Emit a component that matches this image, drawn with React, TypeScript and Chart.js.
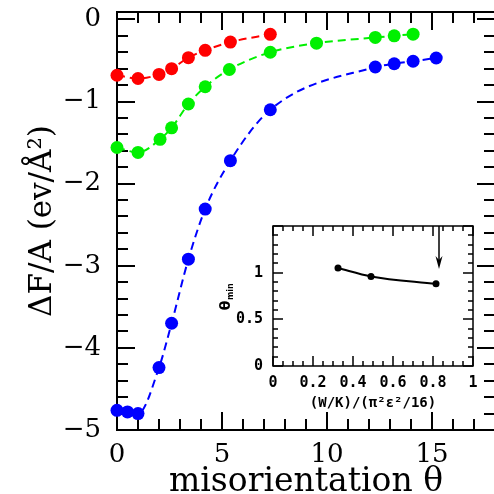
import React, { useEffect, useRef } from "react";
import { Chart, registerables } from "chart.js";

Chart.register(...registerables);

// ---------- Main chart data ----------
const X_RED = [0, 1.0, 2.0, 2.6, 3.4, 4.2, 5.4, 7.3];
const Y_RED = [-0.68, -0.72, -0.67, -0.6, -0.466, -0.377, -0.276, -0.182];

const X_GREEN = [0, 1.0, 2.05, 2.6, 3.4, 4.2, 5.35, 7.3, 9.5, 12.3, 13.2, 14.1];
const Y_GREEN = [-1.56, -1.62, -1.46, -1.32, -1.03, -0.82, -0.61, -0.4, -0.29, -0.22, -0.2, -0.18];

const X_BLUE = [0, 0.5, 1.0, 2.0, 2.6, 3.4, 4.2, 5.4, 7.3, 12.3, 13.2, 14.1, 15.2];
const Y_BLUE = [-4.76, -4.78, -4.8, -4.24, -3.7, -2.92, -2.31, -1.72, -1.1, -0.58, -0.54, -0.51, -0.47];

const MAIN_X_TICKS = [0, 5, 10, 15];
const MAIN_Y_TICKS = [0, -1, -2, -3, -4, -5];
const MAIN_X_TITLE = "misorientation \u03b8";
const MAIN_Y_TITLE = "\u0394F/A (ev/\u00c5\u00b2)";

// ---------- Inset data ----------
const INSET_X = [0.325, 0.49, 0.815];
const INSET_Y = [1.05, 0.96, 0.88];
const INSET_X_TICKS = [0, 0.2, 0.4, 0.6, 0.8, 1];
const INSET_Y_TICKS = [0, 0.5, 1];
const INSET_X_TITLE = "(W/K)/(\u03c0\u00b2\u03b5\u00b2/16)";
const INSET_ARROW_X = 0.83;
const INSET_ARROW_FROM = 1.5;
const INSET_ARROW_TO = 1.04;

function steps(min: number, max: number, step: number): number[] {
  const n = Math.round((max - min) / step);
  const out: number[] = [];
  for (let i = 0; i <= n; i++) out.push(+(min + i * step).toFixed(6));
  return out;
}

function isMultiple(v: number, m: number) {
  const r = v / m;
  return Math.abs(r - Math.round(r)) < 1e-6;
}

type FrameCfg = {
  id: string;
  lw: number;
  xMinor: number[];
  xMajorStep: number;
  yMinor: number[];
  yMajorStep: number;
  minorLen: number;
  majorLen: number;
};

function makeFramePlugin(cfg: FrameCfg) {
  return {
    id: cfg.id,
    beforeDatasetsDraw(chart: any) {
      const { ctx, chartArea, scales } = chart;
      const { left, right, top, bottom } = chartArea;
      const xs = scales.x;
      const ys = scales.y;
      ctx.save();
      ctx.strokeStyle = "#000";
      ctx.lineWidth = cfg.lw;
      ctx.lineCap = "butt";
      ctx.beginPath();
      for (const v of cfg.xMinor) {
        const px = Math.round(xs.getPixelForValue(v));
        const len = isMultiple(v, cfg.xMajorStep) ? cfg.majorLen : cfg.minorLen;
        ctx.moveTo(px, bottom);
        ctx.lineTo(px, bottom - len);
        ctx.moveTo(px, top);
        ctx.lineTo(px, top + len);
      }
      for (const v of cfg.yMinor) {
        const py = Math.round(ys.getPixelForValue(v));
        const len = isMultiple(v, cfg.yMajorStep) ? cfg.majorLen : cfg.minorLen;
        ctx.moveTo(left, py);
        ctx.lineTo(left + len, py);
        ctx.moveTo(right, py);
        ctx.lineTo(right - len, py);
      }
      ctx.stroke();
      ctx.strokeRect(left, top, right - left, bottom - top);
      ctx.restore();
    },
  };
}

const mainTitles = {
  id: "mainTitles",
  afterDraw(chart: any) {
    const { ctx, chartArea } = chart;
    ctx.save();
    ctx.fillStyle = "#000";
    ctx.textAlign = "center";
    ctx.textBaseline = "alphabetic";
    ctx.font = "33px 'DejaVu Serif'";
    ctx.fillText(MAIN_X_TITLE, (chartArea.left + chartArea.right) / 2, 491);
    ctx.font = "31px 'DejaVu Serif'";
    ctx.translate(51, 221);
    ctx.rotate(-Math.PI / 2);
    ctx.fillText(MAIN_Y_TITLE, 0, 0);
    ctx.restore();
  },
};

const insetExtras = {
  id: "insetExtras",
  afterDraw(chart: any) {
    const { ctx, chartArea, scales } = chart;
    ctx.save();
    ctx.fillStyle = "#000";
    ctx.strokeStyle = "#000";
    // x title
    ctx.font = "bold 14px 'DejaVu Sans Mono'";
    ctx.textAlign = "center";
    ctx.textBaseline = "middle";
    ctx.fillText(INSET_X_TITLE, (chartArea.left + chartArea.right) / 2, 203);
    // y title theta_min
    ctx.save();
    ctx.translate(30, 97);
    ctx.rotate(-Math.PI / 2);
    ctx.textAlign = "left";
    ctx.textBaseline = "alphabetic";
    ctx.font = "bold 14px 'DejaVu Sans'";
    const tw = ctx.measureText("\u03b8").width;
    ctx.font = "bold 8px 'DejaVu Sans'";
    const sw = ctx.measureText("min").width;
    const start = -(tw + sw) / 2;
    ctx.font = "bold 14px 'DejaVu Sans'";
    ctx.fillText("\u03b8", start, 0);
    ctx.font = "bold 8px 'DejaVu Sans'";
    ctx.fillText("min", start + tw + 0.5, 3);
    ctx.restore();
    // arrow
    const ax = scales.x.getPixelForValue(INSET_ARROW_X);
    const ay0 = scales.y.getPixelForValue(INSET_ARROW_FROM);
    const ay1 = scales.y.getPixelForValue(INSET_ARROW_TO);
    ctx.lineWidth = 1.5;
    ctx.beginPath();
    ctx.moveTo(ax, ay0);
    ctx.lineTo(ax, ay1 - 8);
    ctx.stroke();
    ctx.beginPath();
    ctx.moveTo(ax, ay1);
    ctx.lineTo(ax - 3.5, ay1 - 13);
    ctx.lineTo(ax, ay1 - 9);
    ctx.lineTo(ax + 3.5, ay1 - 13);
    ctx.closePath();
    ctx.fill();
    ctx.restore();
  },
};

function series(xs: number[], ys: number[]) {
  return xs.map((x, i) => ({ x, y: ys[i] }));
}

function dashedSet(xs: number[], ys: number[], color: string) {
  return {
    data: series(xs, ys),
    borderColor: color,
    backgroundColor: color,
    borderWidth: 2,
    borderDash: [8, 5],
    pointRadius: 6.5,
    pointHoverRadius: 6.5,
    pointBorderWidth: 0,
    pointBackgroundColor: color,
    cubicInterpolationMode: "monotone" as const,
    clip: false as const,
  };
}

const minusFmt = (v: number) => (v < 0 ? "\u2212" + Math.abs(v) : String(v));

const zeroPadX = (s: any) => {
  s.paddingLeft = 0;
  s.paddingRight = 0;
};
const zeroPadY = (s: any) => {
  s.paddingTop = 0;
  s.paddingBottom = 0;
};

export default function App() {
  const mainRef = useRef<HTMLCanvasElement>(null);
  const insetRef = useRef<HTMLCanvasElement>(null);

  useEffect(() => {
    document.body.style.margin = "0";
    const mainChart = new Chart(mainRef.current!, {
      type: "line",
      data: {
        datasets: [
          dashedSet(X_RED, Y_RED, "#ff0000"),
          dashedSet(X_GREEN, Y_GREEN, "#00f000"),
          dashedSet(X_BLUE, Y_BLUE, "#0000ff"),
        ] as any,
      },
      options: {
        responsive: false,
        animation: false,
        devicePixelRatio: 1,
        layout: { padding: { top: 12, right: 15, left: 0, bottom: 0 } },
        plugins: { legend: { display: false }, tooltip: { enabled: false } },
        events: [],
        scales: {
          x: {
            type: "linear",
            min: 0,
            max: 18,
            grid: { display: false, drawTicks: false },
            border: { display: false },
            afterBuildTicks: (s: any) => {
              s.ticks = MAIN_X_TICKS.map((v) => ({ value: v }));
            },
            afterFit: (s: any) => {
              s.height = 64;
              zeroPadX(s);
            },
            ticks: {
              padding: 10,
              maxRotation: 0,
              autoSkip: false,
              color: "#000",
              font: { family: "'DejaVu Serif'", size: 26 },
              callback: (v: any) => minusFmt(Number(v)),
            },
          },
          y: {
            type: "linear",
            min: -5,
            max: 0.09,
            grid: { display: false, drawTicks: false },
            border: { display: false },
            afterBuildTicks: (s: any) => {
              s.ticks = MAIN_Y_TICKS.map((v) => ({ value: v }));
            },
            afterFit: (s: any) => {
              s.width = 117;
              zeroPadY(s);
            },
            ticks: {
              padding: 16,
              autoSkip: false,
              color: "#000",
              font: { family: "'DejaVu Serif'", size: 26 },
              callback: (v: any) => minusFmt(Number(v)),
            },
          },
        },
      },
      plugins: [
        makeFramePlugin({
          id: "mainFrame",
          lw: 2,
          xMinor: steps(0, 18, 1),
          xMajorStep: 5,
          yMinor: steps(-5, 0, 0.2),
          yMajorStep: 1,
          minorLen: 11,
          majorLen: 18,
        }),
        mainTitles,
      ],
    });

    const insetChart = new Chart(insetRef.current!, {
      type: "line",
      data: {
        datasets: [
          {
            data: series(INSET_X, INSET_Y),
            borderColor: "#000",
            backgroundColor: "#000",
            borderWidth: 2,
            pointRadius: 3.5,
            pointBorderWidth: 0,
            pointBackgroundColor: "#000",
            cubicInterpolationMode: "monotone",
            clip: false,
          } as any,
        ],
      },
      options: {
        responsive: false,
        animation: false,
        devicePixelRatio: 1,
        layout: { padding: { top: 26, right: 21, left: 0, bottom: 0 } },
        plugins: { legend: { display: false }, tooltip: { enabled: false } },
        events: [],
        scales: {
          x: {
            type: "linear",
            min: 0,
            max: 1,
            grid: { display: false, drawTicks: false },
            border: { display: false },
            afterBuildTicks: (s: any) => {
              s.ticks = INSET_X_TICKS.map((v) => ({ value: v }));
            },
            afterFit: (s: any) => {
              s.height = 54;
              zeroPadX(s);
            },
            ticks: {
              padding: 8,
              maxRotation: 0,
              autoSkip: false,
              color: "#000",
              font: { family: "'DejaVu Sans Mono'", size: 15, weight: "bold" },
              callback: (v: any) => String(Number(v)),
            },
          },
          y: {
            type: "linear",
            min: 0,
            max: 1.5,
            grid: { display: false, drawTicks: false },
            border: { display: false },
            afterBuildTicks: (s: any) => {
              s.ticks = INSET_Y_TICKS.map((v) => ({ value: v }));
            },
            afterFit: (s: any) => {
              s.width = 73;
              zeroPadY(s);
            },
            ticks: {
              padding: 10,
              autoSkip: false,
              color: "#000",
              font: { family: "'DejaVu Sans Mono'", size: 15, weight: "bold" },
              callback: (v: any) => String(Number(v)),
            },
          },
        },
      },
      plugins: [
        makeFramePlugin({
          id: "insetFrame",
          lw: 1.5,
          xMinor: steps(0, 1, 0.05),
          xMajorStep: 0.2,
          yMinor: steps(0, 1.5, 0.1),
          yMajorStep: 0.5,
          minorLen: 5,
          majorLen: 10,
        }),
        insetExtras,
      ],
    });

    return () => {
      mainChart.destroy();
      insetChart.destroy();
    };
  }, []);

  return (
    <div style={{ position: "fixed", left: 0, top: 0, width: 494, height: 494, overflow: "hidden", background: "#fff" }}>
      <canvas ref={mainRef} width={510} height={494} style={{ position: "absolute", left: 0, top: 0 }} />
      <canvas ref={insetRef} width={294} height={220} style={{ position: "absolute", left: 200, top: 200 }} />
    </div>
  );
}
